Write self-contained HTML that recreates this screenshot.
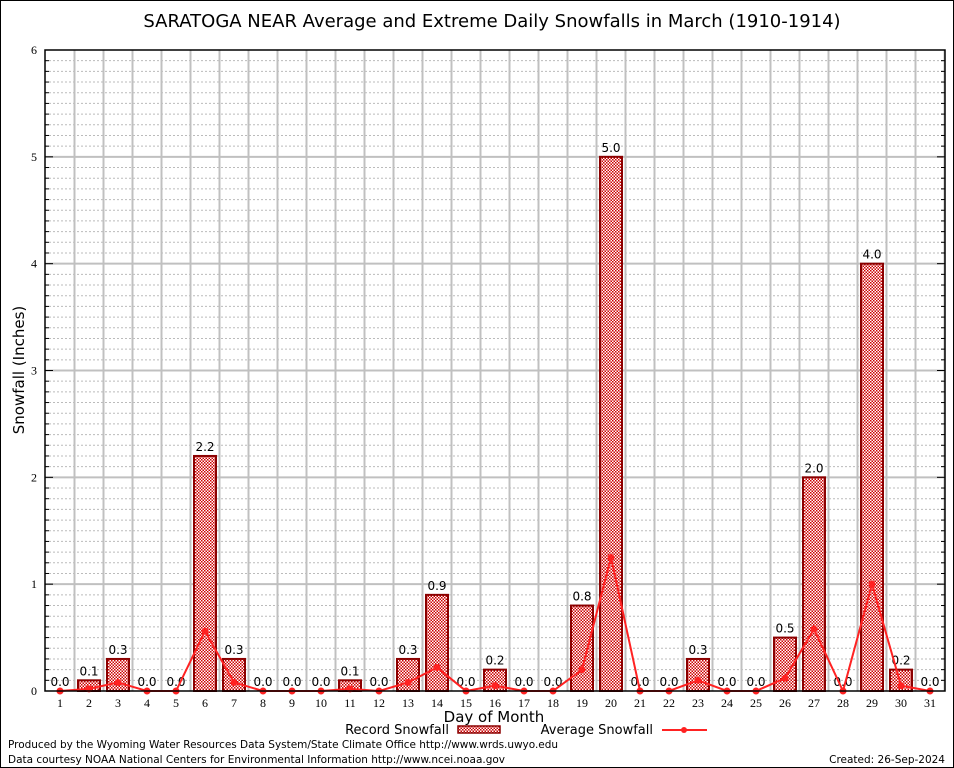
<!DOCTYPE html>
<html><head><meta charset="utf-8"><style>
body{margin:0;background:#fff}
svg{display:block;font-family:"DejaVu Sans","Liberation Sans",sans-serif}
</style></head><body>
<svg id="c" width="954" height="768">
<defs>
<pattern id="hatch" width="3" height="3" patternUnits="userSpaceOnUse">
<rect width="3" height="3" fill="#fff"/>
<rect width="1.5" height="1.5" fill="#c00"/>
<rect x="1.5" y="1.5" width="1.5" height="1.5" fill="#c00"/>
</pattern>
</defs>
<rect x="0.5" y="0.5" width="953" height="767" fill="#fff" stroke="#000"/>
<text x="492" y="27" font-size="18" text-anchor="middle">SARATOGA NEAR Average and Extreme Daily Snowfalls in March (1910-1914)</text>
<g id="grid"></g>
<g id="bars"></g>
<g id="line"></g>
<g id="axes"></g>
<text transform="translate(24,370) rotate(-90)" font-size="15" text-anchor="middle">Snowfall (Inches)</text>
<text x="494" y="722" font-size="15" text-anchor="middle">Day of Month</text>
<g>
<text x="449" y="734" font-size="13" text-anchor="end">Record Snowfall</text>
<rect x="458" y="726" width="42" height="7" fill="url(#hatch)" stroke="#8b0000" stroke-width="1.5"/>
<text x="653" y="734" font-size="13" text-anchor="end">Average Snowfall</text>
<line x1="662" y1="730" x2="707" y2="730" stroke="#f22" stroke-width="2"/>
<circle cx="684" cy="730" r="3" fill="#f22"/>
</g>
<text x="8" y="748" font-size="10.5" textLength="550">Produced by the Wyoming Water Resources Data System/State Climate Office http://www.wrds.uwyo.edu</text>
<text x="8" y="763" font-size="10.5" textLength="497">Data courtesy NOAA National Centers for Environmental Information http://www.ncei.noaa.gov</text>
<text x="945" y="763" font-size="10.5" text-anchor="end">Created: 26-Sep-2024</text>
</svg>
<script>
const days=[1,2,3,4,5,6,7,8,9,10,11,12,13,14,15,16,17,18,19,20,21,22,23,24,25,26,27,28,29,30,31];
const recordValues=[0,0.1,0.3,0,0,2.2,0.3,0,0,0,0.1,0,0.3,0.9,0,0.2,0,0,0.8,5.0,0,0,0.3,0,0,0.5,2.0,0,4.0,0.2,0];
const averageValues=[0,0.02,0.08,0,0,0.56,0.08,0,0,0,0.02,0,0.08,0.22,0,0.05,0,0,0.2,1.25,0,0,0.1,0,0,0.12,0.58,0,1.0,0.05,0];
const yTicks=[0,1,2,3,4,5,6];
const NS="http://www.w3.org/2000/svg";
const L=45,R=945,T=50,B=691,yMax=6;
const xs=d=>60+(d-1)*29;
const ys=v=>B-(v/yMax)*(B-T);
function mk(tag,attrs,parent){const e=document.createElementNS(NS,tag);for(const k in attrs)e.setAttribute(k,attrs[k]);parent.appendChild(e);return e;}
const grid=document.getElementById('grid'),bars=document.getElementById('bars'),line=document.getElementById('line'),axes=document.getElementById('axes');
for(let i=1;i<yMax*10;i++){if(i%10===0)continue;const y=ys(i/10);
const g=mk('line',{x1:L,x2:R,y1:y,y2:y,stroke:'#bbb','stroke-dasharray':'2,2','stroke-width':1},grid);

}
for(let d=1;d<=31;d++){const x=xs(d)+14.5;if(x>=R)continue;
const g=mk('line',{x1:x,x2:x,y1:T,y2:B,stroke:'#c0c0c0','stroke-width':2},grid);

}
yTicks.forEach(t=>{const y=ys(t);
if(t>0&&t<yMax){const g=mk('line',{x1:L,x2:R,y1:y,y2:y,stroke:'#c0c0c0','stroke-width':2},grid);

}
const tx=mk('text',{x:L-8,y:y+4,'font-size':12,'text-anchor':'end','font-family':'Liberation Serif, serif'},axes);tx.textContent=t;

});
for(let i=1;i<yMax*10;i++){const y=ys(i/10);const len=i%10===0?8:4;
mk('line',{x1:L,x2:L+len,y1:y,y2:y,stroke:'#000'},axes);
mk('line',{x1:R-len,x2:R,y1:y,y2:y,stroke:'#000'},axes);}
days.forEach((d,i)=>{const x=xs(d);
const tx=mk('text',{x:x,y:B+16,'font-size':12,'text-anchor':'middle','font-family':'Liberation Serif, serif'},axes);tx.textContent=d;


const v=recordValues[i];if(v===null)return;
if(v>0){const r=mk('rect',{x:x-11,y:ys(v),width:22,height:B-ys(v),fill:'url(#hatch)',stroke:'#8b0000','stroke-width':2},bars);

}
const lb=mk('text',{x:x,y:ys(v)-5,'font-size':12,'text-anchor':'middle'},bars);lb.textContent=v.toFixed(1);

});
const pl=mk('polyline',{points:days.map((d,i)=>xs(d)+','+ys(averageValues[i])).join(' '),fill:'none',stroke:'#f22','stroke-width':2},line);


days.forEach((d,i)=>{const c=mk('circle',{cx:xs(d),cy:ys(averageValues[i]),r:3.5,fill:'#f22'},line);

});
const fr=mk('rect',{x:L,y:T,width:R-L,height:B-T,fill:'none',stroke:'#000','stroke-width':1.5},axes);


</script>
</body></html>
